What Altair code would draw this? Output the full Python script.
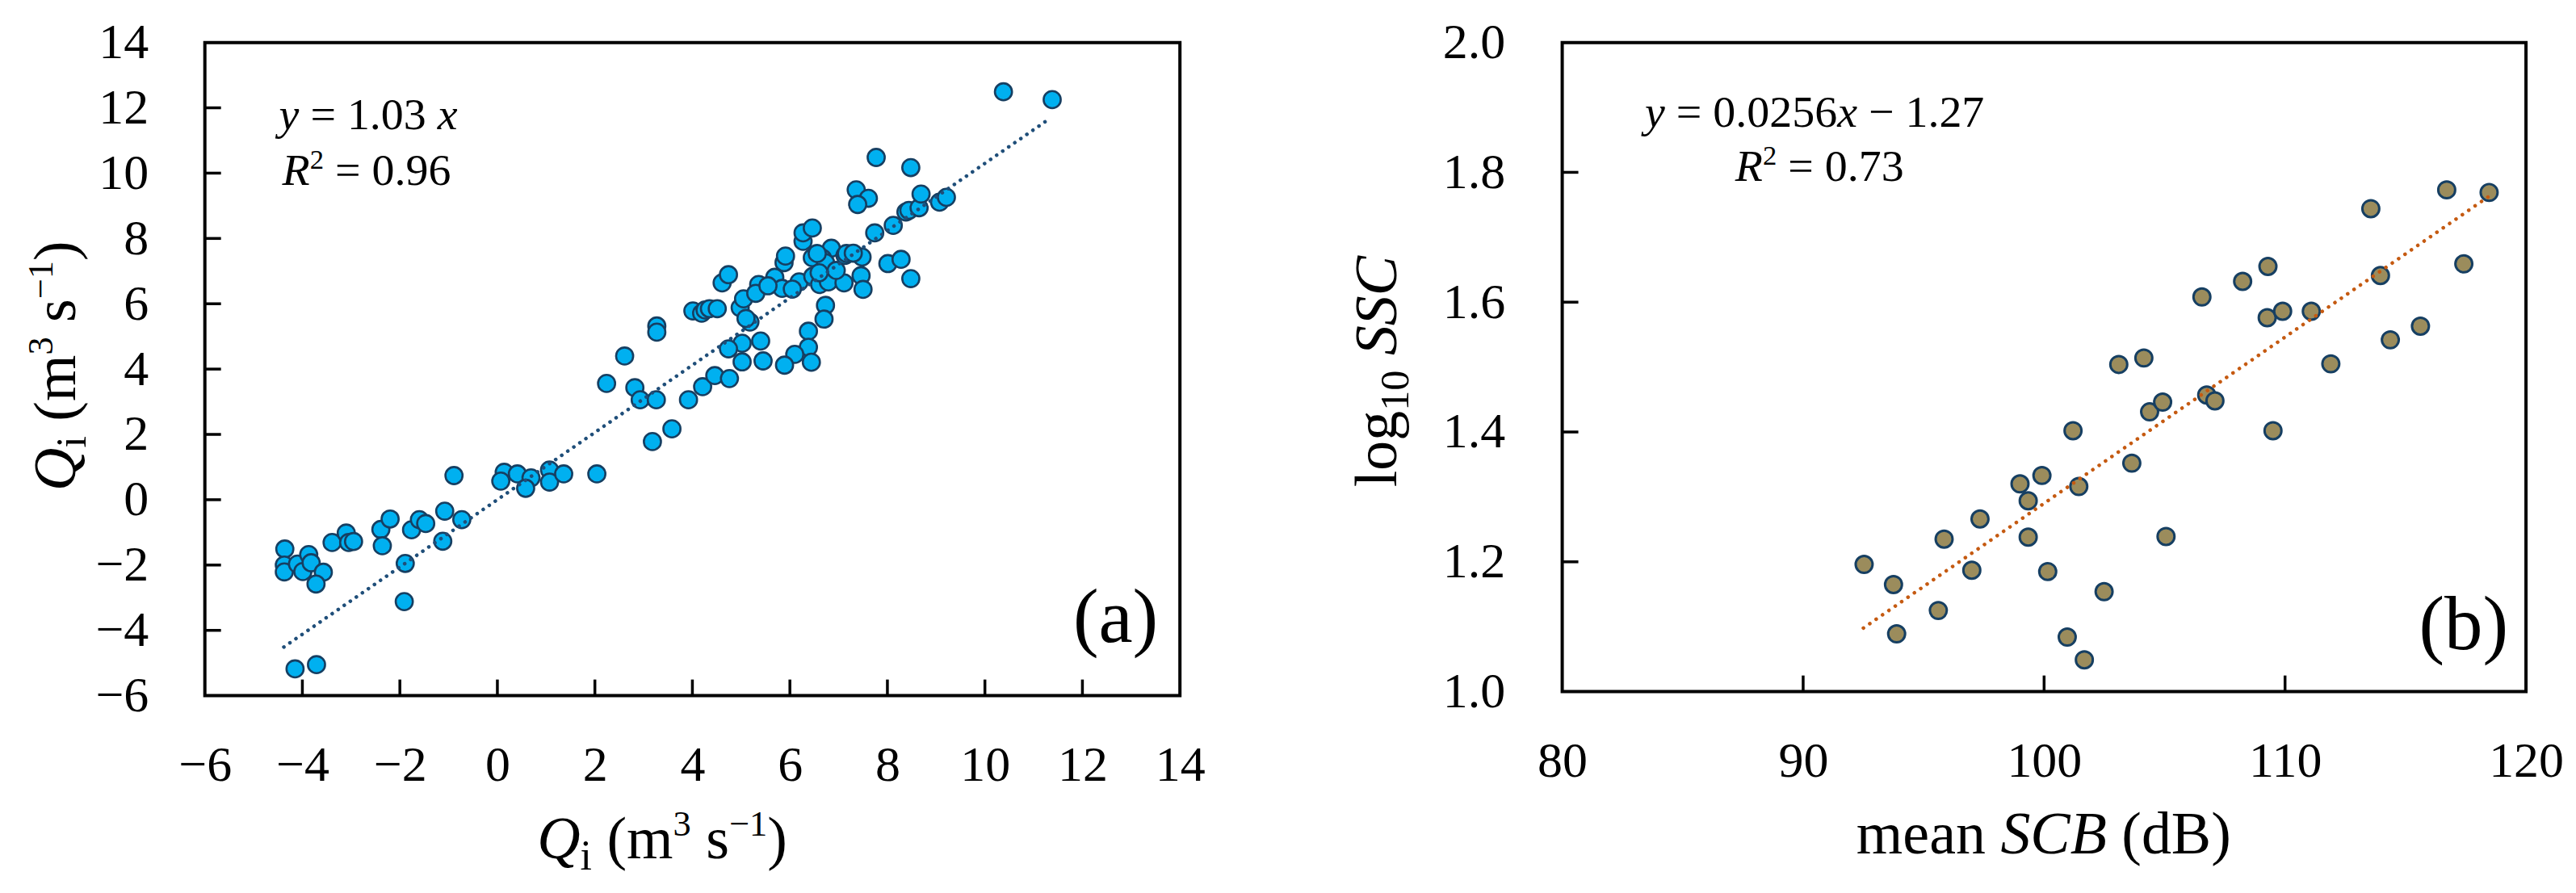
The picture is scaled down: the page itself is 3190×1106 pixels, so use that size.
import altair as alt
import pandas as pd

FONT = "Liberation Serif"

# ---------------- Panel (a) data ----------------
a_x = [-4.36, -4.37, -4.37, -4.10, -3.99, -3.87, -3.82, -3.57, -3.72, -3.39,
       -3.10, -3.05, -2.95, -2.39, -2.20, -2.36, -1.76, -1.60, -1.47, -1.89,
       -1.91, -1.08, -1.12, -0.73, -4.15, -3.71, -0.89, 0.14, 0.07, 0.41,
       0.69, 0.58, 1.07, 1.07, 1.36, 2.04, 2.24, 2.82, 2.93, 3.26,
       3.92, 4.21, 4.46, 4.76, 3.58, 3.18, 2.61, 3.27, 3.27, 4.01,
       4.19, 4.26, 4.35, 4.51, 4.61, 4.74, 4.98, 5.05, 5.18, 5.10,
       5.36, 5.30, 5.69, 5.84, 5.88, 5.91, 6.19, 6.27, 6.27, 6.46,
       6.47, 6.61, 6.79, 6.85, 6.67, 6.46, 6.73, 7.11, 7.13, 7.46,
       7.48, 7.50, 7.36, 7.61, 7.39, 7.74, 7.77, 8.01, 8.12, 8.28,
       8.38, 8.44, 8.48, 8.48, 8.65, 8.69, 9.07, 9.21, 10.38, 11.38,
       6.73, 6.70, 6.38, 6.38, 6.44, 6.10, 5.89, 5.40, 5.45, 5.02,
       5.02, 4.74, 7.16, 6.56, 6.95, 6.60, 6.05, 5.55, 7.30]
a_y = [-1.51, -2.00, -2.21, -1.97, -2.20, -1.68, -1.93, -2.22, -2.58, -1.31,
       -1.02, -1.31, -1.28, -0.91, -0.59, -1.41, -0.92, -0.61, -0.73, -1.95,
       -3.12, -0.35, -1.27, -0.61, -5.18, -5.05, 0.74, 0.84, 0.57, 0.79,
       0.67, 0.35, 0.91, 0.54, 0.79, 0.79, 3.56, 3.43, 3.06, 3.06,
       3.06, 3.46, 3.80, 3.71, 2.17, 1.78, 4.40, 5.32, 5.13, 5.78,
       5.71, 5.81, 5.85, 5.85, 6.64, 6.89, 5.88, 6.15, 5.44, 5.55,
       6.59, 6.32, 6.81, 6.47, 7.26, 7.46, 6.67, 7.91, 8.17, 8.32,
       6.84, 6.59, 6.67, 7.70, 7.39, 7.41, 7.26, 6.64, 7.48, 6.86,
       7.43, 6.44, 9.49, 9.23, 9.04, 8.17, 10.48, 7.23, 8.40, 7.36,
       8.81, 8.86, 10.17, 6.77, 8.94, 9.36, 9.11, 9.26, 12.49, 12.25,
       5.95, 5.53, 5.16, 4.67, 4.21, 4.45, 4.12, 4.86, 4.25, 4.79,
       4.22, 4.62, 7.54, 7.54, 7.02, 6.95, 6.45, 6.55, 7.55]
a_fit_x = [-4.38, 11.32]
a_fit_y = [-4.51, 11.66]
a_labels = [-6, -4, -2, 0, 2, 4, 6, 8, 10, 12, 14]
a_inner_ticks = [-4, -2, 0, 2, 4, 6, 8, 10, 12]

# ---------------- Panel (b) data ----------------
b_x = [92.53, 93.75, 93.88, 95.61, 95.85, 97.00, 97.34, 99.00, 99.34, 99.34,
       99.91, 100.15, 100.96, 101.20, 101.44, 101.67, 102.49, 103.10, 103.64, 104.14,
       104.38, 104.92, 105.06, 106.55, 106.75, 107.09, 108.24, 109.29, 109.26, 109.50,
       109.90, 111.09, 111.90, 113.56, 113.96, 114.37, 115.62, 116.71, 117.42, 118.47]
b_y = [1.196, 1.165, 1.089, 1.125, 1.235, 1.187, 1.266, 1.320, 1.294, 1.238,
       1.333, 1.185, 1.084, 1.402, 1.316, 1.049, 1.154, 1.504, 1.352, 1.514,
       1.431, 1.446, 1.239, 1.608, 1.457, 1.448, 1.632, 1.655, 1.576, 1.402,
       1.586, 1.586, 1.505, 1.744, 1.641, 1.542, 1.563, 1.773, 1.659, 1.769]
b_fit_x = [92.5, 118.5]
b_fit_y = [1.098, 1.764]
b_xlabels = [80, 90, 100, 110, 120]
b_ylabels = [1.0, 1.2, 1.4, 1.6, 1.8, 2.0]
b_inner_xticks = [90, 100, 110]
b_inner_yticks = [1.2, 1.4, 1.6, 1.8]

A_W, A_H = 1209, 810
B_W, B_H = 1195, 805

# ---------------- rich text helper ----------------
W_REG = {' ': 250, '=': 564, '.': 250, '\u2212': 564, '(': 333, ')': 333, 'm': 778,
         'e': 444, 'a': 444, 'n': 500, 'd': 500, 'B': 667, 'l': 278, 'o': 500,
         'g': 500, 's': 389, 'i': 278, 'b': 500}
for _d in "0123456789":
    W_REG[_d] = 500
W_IT = {'y': 444, 'x': 444, 'R': 611, 'Q': 722, 'S': 500, 'C': 667, 'B': 611, ' ': 250}

DUMMY = pd.DataFrame({"k": [0]})


def text_width(t, italic, size):
    tab = W_IT if italic else W_REG
    return sum(tab.get(c, 500) for c in t) * size / 1000.0


def rich(pieces, x0, y0, size, align="left", vertical=False):
    """pieces: (text, italic, scale, shift_em)"""
    total = sum(text_width(t, it, size * sc) for t, it, sc, sh in pieces)
    adv = {"left": 0.0, "center": -total / 2.0, "right": -total}[align]
    layers = []
    for t, it, sc, sh in pieces:
        fs = size * sc
        w = text_width(t, it, fs)
        if t.strip():
            if vertical:
                x, y, ang = x0 - sh * size, y0 - adv, 270
            else:
                x, y, ang = x0 + adv, y0 - sh * size, 0
            layers.append(
                alt.Chart(DUMMY).mark_text(
                    text=t, font=FONT, fontSize=fs,
                    fontStyle="italic" if it else "normal",
                    align="left", baseline="alphabetic", angle=ang, color="black"
                ).encode(x=alt.value(x), y=alt.value(y))
            )
        adv += w
    return layers


SP = (" ", False, 1.0, 0.0)


def p(t, italic=False, scale=1.0, shift=0.0):
    return (t, italic, scale, shift)


# ---------------- Panel (a) ----------------
sx_a = alt.Scale(domain=[-6, 14], nice=False, zero=False)
sy_a = alt.Scale(domain=[-6, 14], nice=False, zero=False)
ax_a = alt.Axis(values=a_labels, ticks=False, domain=False, grid=False, title=None,
                labelFont=FONT, labelFontSize=62, labelColor="black", labelPadding=56,
                labelFlush=False, labelOverlap=False)
ay_a = alt.Axis(values=a_labels, ticks=False, domain=False, grid=False, title=None,
                labelFont=FONT, labelFontSize=62, labelColor="black", labelPadding=70,
                labelFlush=False, labelOverlap=False)

df_a = pd.DataFrame({"x": a_x, "y": a_y})
pts_a = alt.Chart(df_a).mark_point(
    shape="circle", filled=True, fill="#00B0F0", stroke="#163F62",
    strokeWidth=2.6, size=450, opacity=1
).encode(x=alt.X("x:Q", scale=sx_a, axis=ax_a), y=alt.Y("y:Q", scale=sy_a, axis=ay_a))

fit_a = alt.Chart(pd.DataFrame({"x": a_fit_x, "y": a_fit_y})).mark_line(
    color="#1F4E79", strokeWidth=4.5, strokeDash=[0.1, 9], strokeCap="round"
).encode(x=alt.X("x:Q", scale=sx_a, axis=ax_a), y=alt.Y("y:Q", scale=sy_a, axis=ay_a))

tx_a = alt.Chart(pd.DataFrame({"x": a_inner_ticks})).mark_rule(color="black", strokeWidth=3.5).encode(
    x=alt.X("x:Q", scale=sx_a, axis=ax_a), y=alt.value(A_H), y2=alt.value(A_H - 20))
ty_a = alt.Chart(pd.DataFrame({"y": a_inner_ticks})).mark_rule(color="black", strokeWidth=3.5).encode(
    y=alt.Y("y:Q", scale=sy_a, axis=ay_a), x=alt.value(0), x2=alt.value(20))

texts_a = []
texts_a += rich([p("y", True), SP, p("="), SP, p("1.03"), SP, p("x", True)], 92, 108, 56)
texts_a += rich([p("R", True), p("2", False, 0.62, 0.36), SP, p("="), SP, p("0.96")], 96, 177, 56)
texts_a += rich([p("(a)")], 1182, 743, 95, align="right")
texts_a += rich([p("Q", True), p("i", False, 0.7, -0.18), SP, p("(m"), p("3", False, 0.6, 0.38),
                 SP, p("s"), p("\u22121", False, 0.6, 0.38), p(")")], 567, 1012, 74, align="center")
texts_a += rich([p("Q", True), p("i", False, 0.7, -0.18), SP, p("(m"), p("3", False, 0.6, 0.38),
                 SP, p("s"), p("\u22121", False, 0.6, 0.38), p(")")], -161, 401, 74,
                align="center", vertical=True)

panel_a = alt.layer(pts_a, fit_a, tx_a, ty_a, *texts_a).properties(width=A_W, height=A_H)

# ---------------- Panel (b) ----------------
sx_b = alt.Scale(domain=[80, 120], nice=False, zero=False)
sy_b = alt.Scale(domain=[1.0, 2.0], nice=False, zero=False)
ax_b = alt.Axis(values=b_xlabels, ticks=False, domain=False, grid=False, title=None,
                labelFont=FONT, labelFontSize=62, labelColor="black", labelPadding=56,
                labelFlush=False, labelOverlap=False)
ay_b = alt.Axis(values=b_ylabels, format=".1f", ticks=False, domain=False, grid=False, title=None,
                labelFont=FONT, labelFontSize=62, labelColor="black", labelPadding=71,
                labelFlush=False, labelOverlap=False)

df_b = pd.DataFrame({"x": b_x, "y": b_y})
pts_b = alt.Chart(df_b).mark_point(
    shape="circle", filled=True, fill="#9B8C5C", stroke="#163F62",
    strokeWidth=3, size=440, opacity=1
).encode(x=alt.X("x:Q", scale=sx_b, axis=ax_b), y=alt.Y("y:Q", scale=sy_b, axis=ay_b))

fit_b = alt.Chart(pd.DataFrame({"x": b_fit_x, "y": b_fit_y})).mark_line(
    color="#C55A11", strokeWidth=4.5, strokeDash=[0.1, 9.5], strokeCap="round"
).encode(x=alt.X("x:Q", scale=sx_b, axis=ax_b), y=alt.Y("y:Q", scale=sy_b, axis=ay_b))

tx_b = alt.Chart(pd.DataFrame({"x": b_inner_xticks})).mark_rule(color="black", strokeWidth=3.5).encode(
    x=alt.X("x:Q", scale=sx_b, axis=ax_b), y=alt.value(B_H), y2=alt.value(B_H - 20))
ty_b = alt.Chart(pd.DataFrame({"y": b_inner_yticks})).mark_rule(color="black", strokeWidth=3.5).encode(
    y=alt.Y("y:Q", scale=sy_b, axis=ay_b), x=alt.value(0), x2=alt.value(20))

texts_b = []
texts_b += rich([p("y", True), SP, p("="), SP, p("0.0256"), p("x", True), SP, p("\u2212"), SP, p("1.27")],
                313, 105, 56, align="center")
texts_b += rich([p("R", True), p("2", False, 0.62, 0.36), SP, p("="), SP, p("0.73")], 319, 172, 56,
                align="center")
texts_b += rich([p("(b)")], 1173, 752, 95, align="right")
texts_b += rich([p("mean"), SP, p("SCB", True), SP, p("(dB)")], 597, 1006, 74, align="center")
texts_b += rich([p("log"), p("10", False, 0.68, -0.2), SP, p("SSC", True)], -206, 408, 74,
                align="center", vertical=True)

panel_b = alt.layer(pts_b, fit_b, tx_b, ty_b, *texts_b).properties(width=B_W, height=B_H)

chart = alt.hconcat(panel_a, panel_b, spacing=474, bounds="flush").properties(
    padding={"left": 18, "top": 11, "right": 5, "bottom": 5}
).configure(
    font=FONT,
    view=alt.ViewConfig(stroke="black", strokeWidth=4),
)

chart.save("out.html", embed_options={"renderer": "svg", "actions": False})
